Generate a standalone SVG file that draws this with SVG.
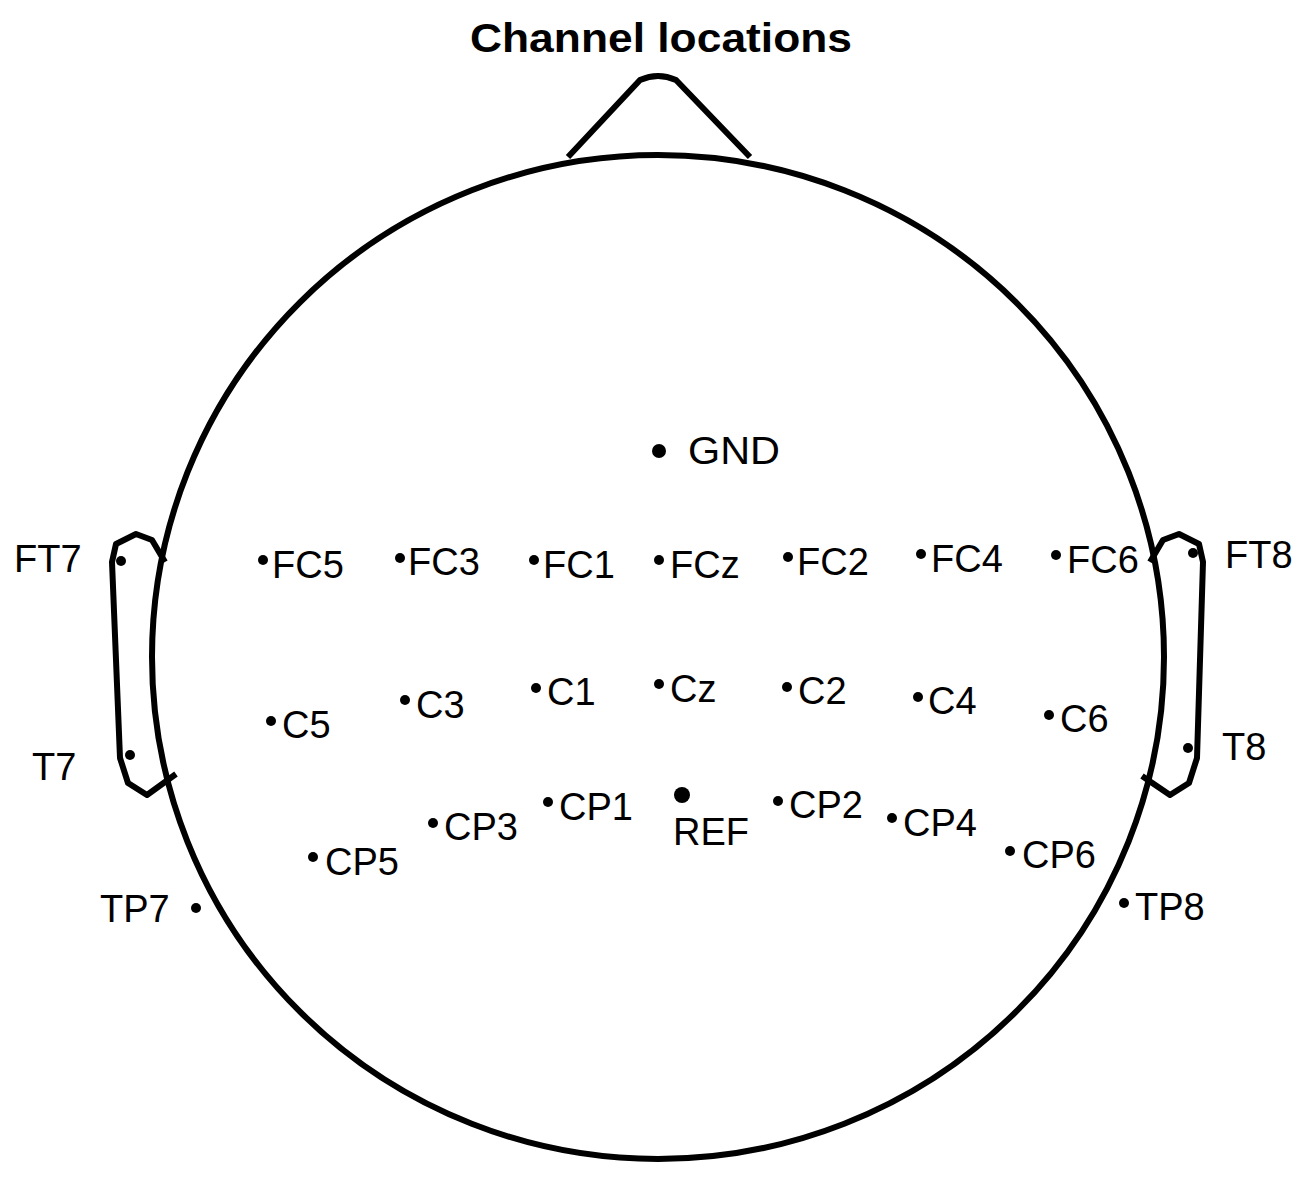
<svg xmlns="http://www.w3.org/2000/svg" width="1307" height="1179" viewBox="0 0 1307 1179">
<style>
.l{fill:none;stroke:#000;stroke-width:6;stroke-linejoin:round}
.t{font-family:"Liberation Sans",Arial,sans-serif;font-size:38px;fill:#000}
.d{fill:#000}
</style>
<rect width="1307" height="1179" fill="#fff"/>
<text x="661" y="52" text-anchor="middle" class="t" style="font-weight:bold;font-size:40px" textLength="382" lengthAdjust="spacingAndGlyphs">Channel locations</text>
<g id="head">
<ellipse cx="658" cy="657" rx="506" ry="502" class="l"/>
<path d="M568,157 L640,80 Q658,72 676,80 L750,157" class="l"/>
<path d="M165,562 L152,540 L136,534 L116,544 L112,562 L120,758 L128,783 L147,795 L176,774" class="l"/>
<path d="M1150,562 L1163,540 L1179,534 L1199,544 L1203,562 L1197,758 L1189,783 L1170,795 L1142,776" class="l"/>
</g>
<g id="channels">
<circle class="d" cx="659" cy="451" r="7"/><text class="t" x="688" y="464" textLength="92" lengthAdjust="spacingAndGlyphs">GND</text>
<circle class="d" cx="263" cy="560" r="5"/><text class="t" x="272" y="578">FC5</text>
<circle class="d" cx="400" cy="558" r="5"/><text class="t" x="408" y="575">FC3</text>
<circle class="d" cx="534" cy="560" r="5"/><text class="t" x="543" y="578">FC1</text>
<circle class="d" cx="659" cy="560" r="5"/><text class="t" x="670" y="578">FCz</text>
<circle class="d" cx="788" cy="557" r="5"/><text class="t" x="797" y="575">FC2</text>
<circle class="d" cx="921" cy="554" r="5"/><text class="t" x="931" y="572">FC4</text>
<circle class="d" cx="1056" cy="555" r="5"/><text class="t" x="1067" y="573">FC6</text>
<circle class="d" cx="121" cy="561" r="5"/><text class="t" x="14" y="572">FT7</text>
<circle class="d" cx="1193" cy="553" r="5"/><text class="t" x="1225" y="568">FT8</text>
<circle class="d" cx="271" cy="721" r="5"/><text class="t" x="282" y="738">C5</text>
<circle class="d" cx="405" cy="700" r="5"/><text class="t" x="416" y="718">C3</text>
<circle class="d" cx="536" cy="688" r="5"/><text class="t" x="547" y="705">C1</text>
<circle class="d" cx="659" cy="684" r="5"/><text class="t" x="670" y="702">Cz</text>
<circle class="d" cx="787" cy="687" r="5"/><text class="t" x="798" y="704">C2</text>
<circle class="d" cx="918" cy="697" r="5"/><text class="t" x="928" y="714">C4</text>
<circle class="d" cx="1049" cy="715" r="5"/><text class="t" x="1060" y="732">C6</text>
<circle class="d" cx="130" cy="755" r="5"/><text class="t" x="32" y="780">T7</text>
<circle class="d" cx="1188" cy="748" r="5"/><text class="t" x="1222" y="760">T8</text>
<circle class="d" cx="313" cy="857" r="5"/><text class="t" x="325" y="875">CP5</text>
<circle class="d" cx="433" cy="823" r="5"/><text class="t" x="444" y="840">CP3</text>
<circle class="d" cx="548" cy="802" r="5"/><text class="t" x="559" y="820">CP1</text>
<circle class="d" cx="682" cy="795" r="8"/><text class="t" x="673" y="845">REF</text>
<circle class="d" cx="778" cy="801" r="5"/><text class="t" x="789" y="818">CP2</text>
<circle class="d" cx="892" cy="818" r="5"/><text class="t" x="903" y="836">CP4</text>
<circle class="d" cx="1010" cy="851" r="5"/><text class="t" x="1022" y="868">CP6</text>
<circle class="d" cx="196" cy="908" r="5"/><text class="t" x="100" y="922">TP7</text>
<circle class="d" cx="1124" cy="903" r="5"/><text class="t" x="1135" y="920">TP8</text>
</g>
<g id="connectors"/>
</svg>
